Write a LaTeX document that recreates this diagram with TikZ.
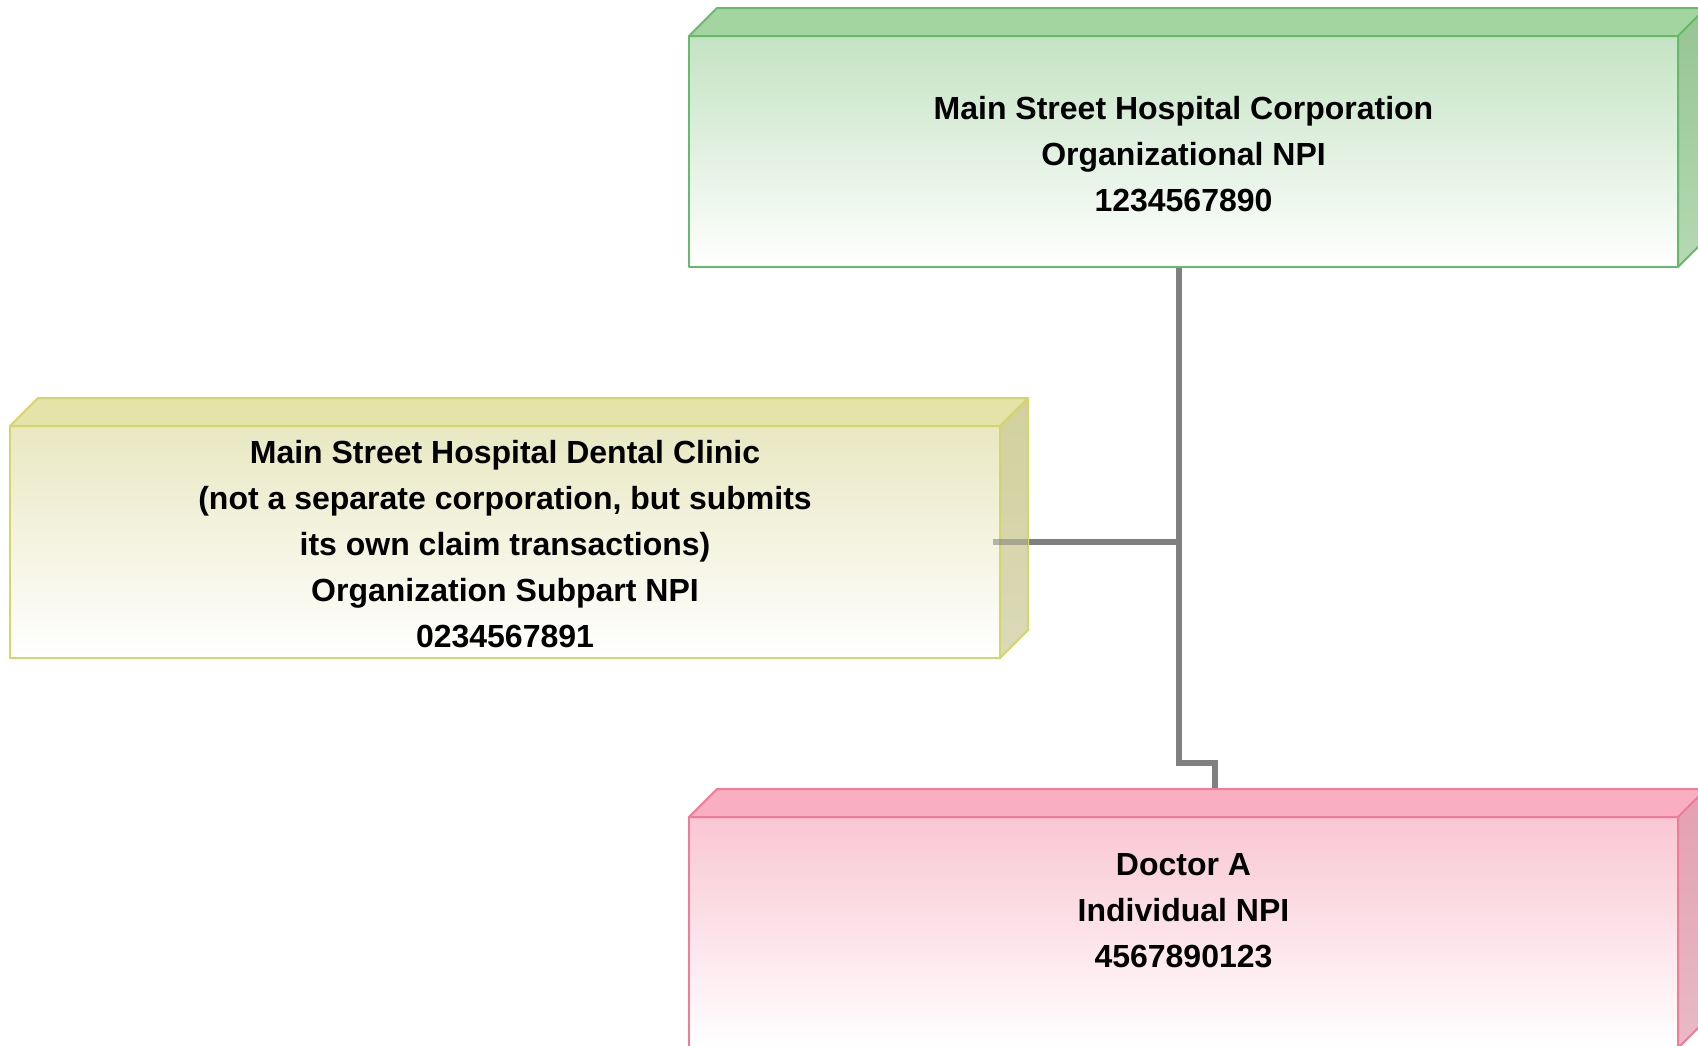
\documentclass[tikz,border=0pt]{standalone}
\usepackage{fontspec}
\setmainfont{Liberation Sans}
\usetikzlibrary{backgrounds}

\definecolor{grnline}{HTML}{66BB6A}
\definecolor{grntop}{HTML}{A3D5A1}
\definecolor{grnfront}{HTML}{C4E3C3}
\definecolor{grnsideA}{HTML}{95C493}
\definecolor{grnsideB}{HTML}{B6D9B4}
\definecolor{yelline}{HTML}{D4D56B}
\definecolor{yeltop}{HTML}{E5E3A9}
\definecolor{yelfront}{HTML}{E9E8C2}
\definecolor{yelsideA}{HTML}{D1D09D}
\definecolor{yelsideB}{HTML}{DBDAB9}
\definecolor{pnkline}{HTML}{F27B98}
\definecolor{pnktop}{HTML}{F9AFC1}
\definecolor{pnkfront}{HTML}{F9C7D3}
\definecolor{pnksideA}{HTML}{E3A0B1}
\definecolor{pnksideB}{HTML}{E9BAC6}
\definecolor{linkgray}{HTML}{808080}

\tikzstyle{face} = [rectangle, line width=2pt, outer sep=0pt, line join=round, minimum width=989pt, minimum height=231pt, text centered, align=center, font=\fontsize{32}{46}\selectfont\bfseries]
\tikzstyle{greenface} = [face, draw=grnline, top color=grnfront, bottom color=white]
\tikzstyle{yellowface} = [face, draw=yelline, top color=yelfront, bottom color=white, minimum width=990pt, minimum height=232pt]
\tikzstyle{pinkface} = [face, draw=pnkline, top color=pnkfront, bottom color=white]
\tikzstyle{link} = [line width=5.5pt, draw=linkgray]

\begin{document}
\begin{tikzpicture}[x=1pt, y=-1pt]
    \useasboundingbox (0,0) rectangle (1698,1045);

    % front faces
    \node [greenface, text height=120pt] at (1183.5,151.5) (corp) {Main Street Hospital Corporation\\Organizational NPI\\1234567890};
    \node [yellowface, text height=212pt] at (505,542) (dental) {Main Street Hospital Dental Clinic\\(not a separate corporation, but submits\\its own claim transactions)\\Organization Subpart NPI\\0234567891};
    \node [pinkface, text depth=44pt] at (1183.5,932.5) (doctor) {Doctor A\\Individual NPI\\4567890123};

    % top and side faces
    \filldraw [draw=grnline, fill=grntop, line width=2pt, line join=round] (corp.north west) -- ++(28,-28) -- ([shift={(28,-28)}]corp.north east) -- (corp.north east) -- cycle;
    \filldraw [draw=grnline, top color=grnsideA, bottom color=grnsideB, line width=2pt, line join=round] (corp.north east) -- ++(28,-28) -- ([shift={(28,-28)}]corp.south east) -- (corp.south east) -- cycle;
    \filldraw [draw=yelline, fill=yeltop, line width=2pt, line join=round] (dental.north west) -- ++(28,-28) -- ([shift={(28,-28)}]dental.north east) -- (dental.north east) -- cycle;
    \filldraw [draw=yelline, top color=yelsideA, bottom color=yelsideB, line width=2pt, line join=round] (dental.north east) -- ++(28,-28) -- ([shift={(28,-28)}]dental.south east) -- (dental.south east) -- cycle;
    \filldraw [draw=pnkline, fill=pnktop, line width=2pt, line join=round] (doctor.north west) -- ++(28,-28) -- ([shift={(28,-28)}]doctor.north east) -- (doctor.north east) -- cycle;
    \filldraw [draw=pnkline, top color=pnksideA, bottom color=pnksideB, line width=2pt, line join=round] (doctor.north east) -- ++(28,-28) -- ([shift={(28,-28)}]doctor.south east) -- (doctor.south east) -- cycle;

    \coordinate (doctop) at (1215,789);

    % connectors
    \begin{pgfonlayer}{background}
    \draw [link] ([xshift=-4.5pt]corp.south) -- ++(0,496) -| (doctop);
    \draw [link] ([xshift=-4.5pt]corp.south |- dental.east) -- ([xshift=-7pt]dental.east);
    \end{pgfonlayer}
    % the part of the line seen through the box
    \draw [link, draw opacity=0.55] ([xshift=-7pt]dental.east) -- ([xshift=28pt]dental.east);
\end{tikzpicture}
\end{document}
